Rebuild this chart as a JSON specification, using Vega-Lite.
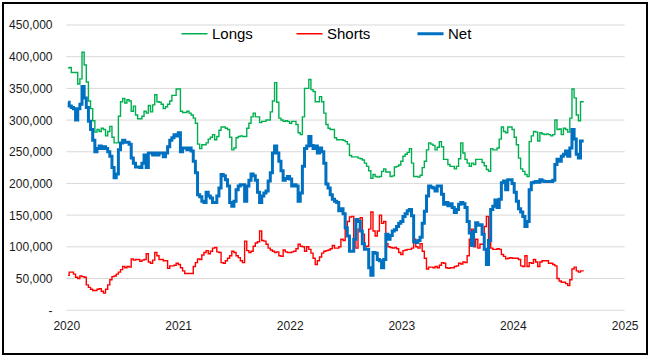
{
"$schema": "https://vega.github.io/schema/vega-lite/v6.json",
"width": 644, "height": 351,
"autosize": {"type": "none"},
"padding": {"left": 3, "top": 3, "right": 3, "bottom": 7},
"background": "white",
"config": {"view": {"stroke": "#000000", "strokeWidth": 2}, "font": "Liberation Sans"},
"datasets": {
"grid": [
{"d":"2020-01-01","d2":"2025-01-01","value":0},{"d":"2020-01-01","d2":"2025-01-01","value":50000},{"d":"2020-01-01","d2":"2025-01-01","value":100000},{"d":"2020-01-01","d2":"2025-01-01","value":150000},{"d":"2020-01-01","d2":"2025-01-01","value":200000},{"d":"2020-01-01","d2":"2025-01-01","value":250000},{"d":"2020-01-01","d2":"2025-01-01","value":300000},{"d":"2020-01-01","d2":"2025-01-01","value":350000},{"d":"2020-01-01","d2":"2025-01-01","value":400000},{"d":"2020-01-01","d2":"2025-01-01","value":450000}
],
"main": [
{"d":"2020-01-07","Longs":382000,"Shorts":55000,"Net":328000},
{"d":"2020-01-14","Longs":383000,"Shorts":60000,"Net":322000},
{"d":"2020-01-21","Longs":375000,"Shorts":60000,"Net":320000},
{"d":"2020-01-28","Longs":375000,"Shorts":57000,"Net":318000},
{"d":"2020-02-04","Longs":375000,"Shorts":52000,"Net":300000},
{"d":"2020-02-11","Longs":357000,"Shorts":50000,"Net":318000},
{"d":"2020-02-18","Longs":365000,"Shorts":54000,"Net":325000},
{"d":"2020-02-25","Longs":407000,"Shorts":53000,"Net":353000},
{"d":"2020-03-03","Longs":387000,"Shorts":52000,"Net":335000},
{"d":"2020-03-10","Longs":360000,"Shorts":40000,"Net":320000},
{"d":"2020-03-17","Longs":330000,"Shorts":36000,"Net":298000},
{"d":"2020-03-24","Longs":318000,"Shorts":33000,"Net":285000},
{"d":"2020-03-31","Longs":299000,"Shorts":31000,"Net":268000},
{"d":"2020-04-07","Longs":281000,"Shorts":31000,"Net":250000},
{"d":"2020-04-14","Longs":285000,"Shorts":33000,"Net":255000},
{"d":"2020-04-21","Longs":282000,"Shorts":34000,"Net":259000},
{"d":"2020-04-28","Longs":287000,"Shorts":30000,"Net":255000},
{"d":"2020-05-05","Longs":285000,"Shorts":27000,"Net":258000},
{"d":"2020-05-12","Longs":275000,"Shorts":33000,"Net":255000},
{"d":"2020-05-19","Longs":282000,"Shorts":40000,"Net":250000},
{"d":"2020-05-26","Longs":290000,"Shorts":48000,"Net":243000},
{"d":"2020-06-02","Longs":273000,"Shorts":53000,"Net":225000},
{"d":"2020-06-09","Longs":264000,"Shorts":54000,"Net":209000},
{"d":"2020-06-16","Longs":264000,"Shorts":57000,"Net":215000},
{"d":"2020-06-23","Longs":306000,"Shorts":60000,"Net":253000},
{"d":"2020-06-30","Longs":329000,"Shorts":64000,"Net":264000},
{"d":"2020-07-07","Longs":334000,"Shorts":69000,"Net":268000},
{"d":"2020-07-14","Longs":327000,"Shorts":67000,"Net":265000},
{"d":"2020-07-21","Longs":332000,"Shorts":69000,"Net":265000},
{"d":"2020-07-28","Longs":330000,"Shorts":68000,"Net":262000},
{"d":"2020-08-04","Longs":314000,"Shorts":81000,"Net":240000},
{"d":"2020-08-11","Longs":322000,"Shorts":79000,"Net":232000},
{"d":"2020-08-18","Longs":308000,"Shorts":80000,"Net":226000},
{"d":"2020-08-25","Longs":302000,"Shorts":80000,"Net":226000},
{"d":"2020-09-01","Longs":302000,"Shorts":77000,"Net":225000},
{"d":"2020-09-08","Longs":306000,"Shorts":79000,"Net":232000},
{"d":"2020-09-15","Longs":314000,"Shorts":80000,"Net":245000},
{"d":"2020-09-22","Longs":311000,"Shorts":89000,"Net":225000},
{"d":"2020-09-29","Longs":323000,"Shorts":76000,"Net":248000},
{"d":"2020-10-06","Longs":313000,"Shorts":74000,"Net":248000},
{"d":"2020-10-13","Longs":324000,"Shorts":79000,"Net":245000},
{"d":"2020-10-20","Longs":340000,"Shorts":91000,"Net":248000},
{"d":"2020-10-27","Longs":329000,"Shorts":86000,"Net":245000},
{"d":"2020-11-03","Longs":328000,"Shorts":80000,"Net":248000},
{"d":"2020-11-10","Longs":325000,"Shorts":80000,"Net":248000},
{"d":"2020-11-17","Longs":318000,"Shorts":78000,"Net":242000},
{"d":"2020-11-24","Longs":321000,"Shorts":78000,"Net":248000},
{"d":"2020-12-01","Longs":325000,"Shorts":66000,"Net":258000},
{"d":"2020-12-08","Longs":330000,"Shorts":70000,"Net":268000},
{"d":"2020-12-15","Longs":339000,"Shorts":70000,"Net":272000},
{"d":"2020-12-22","Longs":339000,"Shorts":71000,"Net":277000},
{"d":"2020-12-29","Longs":349000,"Shorts":74000,"Net":275000},
{"d":"2021-01-05","Longs":349000,"Shorts":72000,"Net":280000},
{"d":"2021-01-12","Longs":314000,"Shorts":67000,"Net":250000},
{"d":"2021-01-19","Longs":312000,"Shorts":62000,"Net":256000},
{"d":"2021-01-26","Longs":312000,"Shorts":58000,"Net":256000},
{"d":"2021-02-02","Longs":314000,"Shorts":58000,"Net":253000},
{"d":"2021-02-09","Longs":311000,"Shorts":58000,"Net":256000},
{"d":"2021-02-16","Longs":308000,"Shorts":58000,"Net":251000},
{"d":"2021-02-23","Longs":303000,"Shorts":69000,"Net":235000},
{"d":"2021-03-02","Longs":295000,"Shorts":75000,"Net":217000},
{"d":"2021-03-09","Longs":262000,"Shorts":81000,"Net":182000},
{"d":"2021-03-16","Longs":255000,"Shorts":80000,"Net":179000},
{"d":"2021-03-23","Longs":261000,"Shorts":87000,"Net":172000},
{"d":"2021-03-30","Longs":261000,"Shorts":91000,"Net":170000},
{"d":"2021-04-06","Longs":264000,"Shorts":94000,"Net":186000},
{"d":"2021-04-13","Longs":270000,"Shorts":89000,"Net":180000},
{"d":"2021-04-20","Longs":273000,"Shorts":93000,"Net":177000},
{"d":"2021-04-27","Longs":277000,"Shorts":98000,"Net":170000},
{"d":"2021-05-04","Longs":269000,"Shorts":99000,"Net":170000},
{"d":"2021-05-11","Longs":274000,"Shorts":92000,"Net":180000},
{"d":"2021-05-18","Longs":284000,"Shorts":91000,"Net":193000},
{"d":"2021-05-25","Longs":289000,"Shorts":75000,"Net":214000},
{"d":"2021-06-01","Longs":289000,"Shorts":74000,"Net":212000},
{"d":"2021-06-08","Longs":287000,"Shorts":78000,"Net":206000},
{"d":"2021-06-15","Longs":285000,"Shorts":82000,"Net":196000},
{"d":"2021-06-22","Longs":273000,"Shorts":86000,"Net":170000},
{"d":"2021-06-29","Longs":253000,"Shorts":93000,"Net":164000},
{"d":"2021-07-06","Longs":256000,"Shorts":91000,"Net":172000},
{"d":"2021-07-13","Longs":272000,"Shorts":86000,"Net":190000},
{"d":"2021-07-20","Longs":274000,"Shorts":83000,"Net":196000},
{"d":"2021-07-27","Longs":275000,"Shorts":78000,"Net":198000},
{"d":"2021-08-03","Longs":274000,"Shorts":75000,"Net":198000},
{"d":"2021-08-10","Longs":274000,"Shorts":109000,"Net":172000},
{"d":"2021-08-17","Longs":287000,"Shorts":94000,"Net":196000},
{"d":"2021-08-24","Longs":295000,"Shorts":91000,"Net":205000},
{"d":"2021-08-31","Longs":305000,"Shorts":93000,"Net":215000},
{"d":"2021-09-07","Longs":311000,"Shorts":101000,"Net":212000},
{"d":"2021-09-14","Longs":305000,"Shorts":106000,"Net":205000},
{"d":"2021-09-21","Longs":305000,"Shorts":108000,"Net":186000},
{"d":"2021-09-28","Longs":296000,"Shorts":125000,"Net":170000},
{"d":"2021-10-05","Longs":298000,"Shorts":110000,"Net":180000},
{"d":"2021-10-12","Longs":298000,"Shorts":109000,"Net":185000},
{"d":"2021-10-19","Longs":300000,"Shorts":104000,"Net":188000},
{"d":"2021-10-26","Longs":300000,"Shorts":98000,"Net":204000},
{"d":"2021-11-02","Longs":313000,"Shorts":95000,"Net":217000},
{"d":"2021-11-09","Longs":330000,"Shorts":93000,"Net":248000},
{"d":"2021-11-16","Longs":359000,"Shorts":91000,"Net":259000},
{"d":"2021-11-23","Longs":328000,"Shorts":92000,"Net":248000},
{"d":"2021-11-30","Longs":303000,"Shorts":86000,"Net":235000},
{"d":"2021-12-07","Longs":300000,"Shorts":85000,"Net":220000},
{"d":"2021-12-14","Longs":298000,"Shorts":95000,"Net":205000},
{"d":"2021-12-21","Longs":299000,"Shorts":92000,"Net":208000},
{"d":"2021-12-28","Longs":298000,"Shorts":91000,"Net":211000},
{"d":"2022-01-04","Longs":295000,"Shorts":91000,"Net":207000},
{"d":"2022-01-11","Longs":298000,"Shorts":92000,"Net":196000},
{"d":"2022-01-18","Longs":298000,"Shorts":93000,"Net":198000},
{"d":"2022-01-25","Longs":293000,"Shorts":97000,"Net":196000},
{"d":"2022-02-01","Longs":280000,"Shorts":104000,"Net":172000},
{"d":"2022-02-08","Longs":277000,"Shorts":101000,"Net":185000},
{"d":"2022-02-15","Longs":305000,"Shorts":100000,"Net":227000},
{"d":"2022-02-22","Longs":350000,"Shorts":93000,"Net":255000},
{"d":"2022-03-01","Longs":350000,"Shorts":100000,"Net":259000},
{"d":"2022-03-08","Longs":364000,"Shorts":96000,"Net":274000},
{"d":"2022-03-15","Longs":348000,"Shorts":90000,"Net":260000},
{"d":"2022-03-22","Longs":345000,"Shorts":82000,"Net":255000},
{"d":"2022-03-29","Longs":329000,"Shorts":72000,"Net":259000},
{"d":"2022-04-05","Longs":329000,"Shorts":78000,"Net":248000},
{"d":"2022-04-12","Longs":337000,"Shorts":84000,"Net":256000},
{"d":"2022-04-19","Longs":329000,"Shorts":90000,"Net":250000},
{"d":"2022-04-26","Longs":311000,"Shorts":93000,"Net":232000},
{"d":"2022-05-03","Longs":293000,"Shorts":94000,"Net":199000},
{"d":"2022-05-10","Longs":287000,"Shorts":95000,"Net":193000},
{"d":"2022-05-17","Longs":285000,"Shorts":97000,"Net":182000},
{"d":"2022-05-24","Longs":285000,"Shorts":102000,"Net":175000},
{"d":"2022-05-31","Longs":272000,"Shorts":98000,"Net":172000},
{"d":"2022-06-07","Longs":269000,"Shorts":98000,"Net":170000},
{"d":"2022-06-14","Longs":269000,"Shorts":100000,"Net":157000},
{"d":"2022-06-21","Longs":269000,"Shorts":112000,"Net":160000},
{"d":"2022-06-28","Longs":268000,"Shorts":110000,"Net":152000},
{"d":"2022-07-05","Longs":266000,"Shorts":128000,"Net":130000},
{"d":"2022-07-12","Longs":262000,"Shorts":140000,"Net":117000},
{"d":"2022-07-19","Longs":244000,"Shorts":147000,"Net":93000},
{"d":"2022-07-26","Longs":242000,"Shorts":148000,"Net":93000},
{"d":"2022-08-02","Longs":242000,"Shorts":112000,"Net":112000},
{"d":"2022-08-09","Longs":242000,"Shorts":98000,"Net":143000},
{"d":"2022-08-16","Longs":240000,"Shorts":128000,"Net":140000},
{"d":"2022-08-23","Longs":239000,"Shorts":146000,"Net":125000},
{"d":"2022-08-30","Longs":237000,"Shorts":120000,"Net":105000},
{"d":"2022-09-06","Longs":232000,"Shorts":100000,"Net":96000},
{"d":"2022-09-13","Longs":227000,"Shorts":101000,"Net":96000},
{"d":"2022-09-20","Longs":220000,"Shorts":128000,"Net":67000},
{"d":"2022-09-27","Longs":208000,"Shorts":155000,"Net":55000},
{"d":"2022-10-04","Longs":214000,"Shorts":125000,"Net":91000},
{"d":"2022-10-11","Longs":211000,"Shorts":117000,"Net":90000},
{"d":"2022-10-18","Longs":210000,"Shorts":125000,"Net":80000},
{"d":"2022-10-25","Longs":211000,"Shorts":150000,"Net":78000},
{"d":"2022-11-01","Longs":219000,"Shorts":137000,"Net":67000},
{"d":"2022-11-08","Longs":223000,"Shorts":140000,"Net":80000},
{"d":"2022-11-15","Longs":218000,"Shorts":105000,"Net":120000},
{"d":"2022-11-22","Longs":218000,"Shorts":100000,"Net":112000},
{"d":"2022-11-29","Longs":211000,"Shorts":99000,"Net":118000},
{"d":"2022-12-06","Longs":212000,"Shorts":98000,"Net":125000},
{"d":"2022-12-13","Longs":226000,"Shorts":99000,"Net":127000},
{"d":"2022-12-20","Longs":227000,"Shorts":97000,"Net":132000},
{"d":"2022-12-27","Longs":229000,"Shorts":91000,"Net":137000},
{"d":"2023-01-03","Longs":235000,"Shorts":88000,"Net":140000},
{"d":"2023-01-10","Longs":243000,"Shorts":94000,"Net":148000},
{"d":"2023-01-17","Longs":246000,"Shorts":95000,"Net":152000},
{"d":"2023-01-24","Longs":249000,"Shorts":96000,"Net":157000},
{"d":"2023-01-31","Longs":255000,"Shorts":96000,"Net":159000},
{"d":"2023-02-07","Longs":232000,"Shorts":98000,"Net":149000},
{"d":"2023-02-14","Longs":211000,"Shorts":112000,"Net":108000},
{"d":"2023-02-21","Longs":211000,"Shorts":100000,"Net":107000},
{"d":"2023-02-28","Longs":210000,"Shorts":98000,"Net":110000},
{"d":"2023-03-07","Longs":213000,"Shorts":105000,"Net":115000},
{"d":"2023-03-14","Longs":225000,"Shorts":93000,"Net":137000},
{"d":"2023-03-21","Longs":235000,"Shorts":82000,"Net":156000},
{"d":"2023-03-28","Longs":253000,"Shorts":65000,"Net":180000},
{"d":"2023-04-04","Longs":264000,"Shorts":68000,"Net":196000},
{"d":"2023-04-11","Longs":262000,"Shorts":68000,"Net":194000},
{"d":"2023-04-18","Longs":260000,"Shorts":67000,"Net":193000},
{"d":"2023-04-25","Longs":253000,"Shorts":69000,"Net":188000},
{"d":"2023-05-02","Longs":257000,"Shorts":67000,"Net":196000},
{"d":"2023-05-09","Longs":266000,"Shorts":71000,"Net":196000},
{"d":"2023-05-16","Longs":258000,"Shorts":75000,"Net":183000},
{"d":"2023-05-23","Longs":238000,"Shorts":74000,"Net":167000},
{"d":"2023-05-30","Longs":238000,"Shorts":67000,"Net":170000},
{"d":"2023-06-06","Longs":230000,"Shorts":66000,"Net":165000},
{"d":"2023-06-13","Longs":227000,"Shorts":67000,"Net":168000},
{"d":"2023-06-20","Longs":227000,"Shorts":67000,"Net":162000},
{"d":"2023-06-27","Longs":223000,"Shorts":69000,"Net":154000},
{"d":"2023-07-04","Longs":227000,"Shorts":70000,"Net":159000},
{"d":"2023-07-11","Longs":239000,"Shorts":74000,"Net":167000},
{"d":"2023-07-18","Longs":264000,"Shorts":73000,"Net":170000},
{"d":"2023-07-25","Longs":248000,"Shorts":76000,"Net":168000},
{"d":"2023-08-01","Longs":238000,"Shorts":75000,"Net":162000},
{"d":"2023-08-08","Longs":232000,"Shorts":86000,"Net":140000},
{"d":"2023-08-15","Longs":227000,"Shorts":112000,"Net":122000},
{"d":"2023-08-22","Longs":232000,"Shorts":128000,"Net":102000},
{"d":"2023-08-29","Longs":230000,"Shorts":100000,"Net":124000},
{"d":"2023-09-05","Longs":238000,"Shorts":112000,"Net":138000},
{"d":"2023-09-12","Longs":238000,"Shorts":98000,"Net":134000},
{"d":"2023-09-19","Longs":238000,"Shorts":104000,"Net":135000},
{"d":"2023-09-26","Longs":233000,"Shorts":104000,"Net":120000},
{"d":"2023-10-03","Longs":228000,"Shorts":132000,"Net":96000},
{"d":"2023-10-10","Longs":222000,"Shorts":148000,"Net":72000},
{"d":"2023-10-17","Longs":219000,"Shorts":112000,"Net":110000},
{"d":"2023-10-24","Longs":255000,"Shorts":98000,"Net":159000},
{"d":"2023-10-31","Longs":253000,"Shorts":96000,"Net":164000},
{"d":"2023-11-07","Longs":253000,"Shorts":96000,"Net":174000},
{"d":"2023-11-14","Longs":256000,"Shorts":97000,"Net":162000},
{"d":"2023-11-21","Longs":270000,"Shorts":96000,"Net":175000},
{"d":"2023-11-28","Longs":289000,"Shorts":88000,"Net":201000},
{"d":"2023-12-05","Longs":282000,"Shorts":85000,"Net":204000},
{"d":"2023-12-12","Longs":280000,"Shorts":81000,"Net":190000},
{"d":"2023-12-19","Longs":289000,"Shorts":82000,"Net":206000},
{"d":"2023-12-26","Longs":289000,"Shorts":83000,"Net":206000},
{"d":"2024-01-02","Longs":285000,"Shorts":82000,"Net":200000},
{"d":"2024-01-09","Longs":273000,"Shorts":82000,"Net":186000},
{"d":"2024-01-16","Longs":261000,"Shorts":82000,"Net":172000},
{"d":"2024-01-23","Longs":240000,"Shorts":80000,"Net":160000},
{"d":"2024-01-30","Longs":223000,"Shorts":70000,"Net":155000},
{"d":"2024-02-06","Longs":219000,"Shorts":69000,"Net":148000},
{"d":"2024-02-13","Longs":214000,"Shorts":86000,"Net":132000},
{"d":"2024-02-20","Longs":211000,"Shorts":69000,"Net":140000},
{"d":"2024-02-27","Longs":266000,"Shorts":75000,"Net":190000},
{"d":"2024-03-05","Longs":275000,"Shorts":74000,"Net":201000},
{"d":"2024-03-12","Longs":282000,"Shorts":80000,"Net":202000},
{"d":"2024-03-19","Longs":281000,"Shorts":76000,"Net":203000},
{"d":"2024-03-26","Longs":267000,"Shorts":69000,"Net":202000},
{"d":"2024-04-02","Longs":280000,"Shorts":76000,"Net":206000},
{"d":"2024-04-09","Longs":278000,"Shorts":78000,"Net":204000},
{"d":"2024-04-16","Longs":277000,"Shorts":78000,"Net":203000},
{"d":"2024-04-23","Longs":278000,"Shorts":78000,"Net":203000},
{"d":"2024-04-30","Longs":277000,"Shorts":74000,"Net":203000},
{"d":"2024-05-07","Longs":275000,"Shorts":74000,"Net":203000},
{"d":"2024-05-14","Longs":277000,"Shorts":72000,"Net":205000},
{"d":"2024-05-21","Longs":300000,"Shorts":70000,"Net":230000},
{"d":"2024-05-28","Longs":285000,"Shorts":50000,"Net":238000},
{"d":"2024-06-04","Longs":286000,"Shorts":46000,"Net":235000},
{"d":"2024-06-11","Longs":277000,"Shorts":44000,"Net":243000},
{"d":"2024-06-18","Longs":287000,"Shorts":44000,"Net":246000},
{"d":"2024-06-25","Longs":285000,"Shorts":42000,"Net":251000},
{"d":"2024-07-02","Longs":281000,"Shorts":39000,"Net":243000},
{"d":"2024-07-09","Longs":303000,"Shorts":48000,"Net":256000},
{"d":"2024-07-16","Longs":349000,"Shorts":65000,"Net":285000},
{"d":"2024-07-23","Longs":335000,"Shorts":68000,"Net":270000},
{"d":"2024-07-30","Longs":308000,"Shorts":62000,"Net":246000},
{"d":"2024-08-06","Longs":299000,"Shorts":60000,"Net":240000},
{"d":"2024-08-13","Longs":329000,"Shorts":62000,"Net":267000},
{"d":"2024-08-20","Longs":329000,"Shorts":62000,"Net":267000}
]
},
"encoding": {
"x": {"field": "d", "type": "temporal",
 "scale": {"type": "utc", "domain": [{"year": 2019, "month": 6, "date": 8, "utc": true}, {"year": 2025, "month": 3, "date": 15, "utc": true}]},
 "axis": {"title": null, "format": "%Y", "labelFontSize": 12, "labelColor": "#1a1a1a", "domain": false, "ticks": false, "tickSize": 0, "labelPadding": 0, "offset": -34, "grid": false, "labelFlush": false, "labelOverlap": false,
  "values": [{"year": 2020, "month": 1, "date": 1, "utc": true}, {"year": 2021, "month": 1, "date": 1, "utc": true}, {"year": 2022, "month": 1, "date": 1, "utc": true}, {"year": 2023, "month": 1, "date": 1, "utc": true}, {"year": 2024, "month": 1, "date": 1, "utc": true}, {"year": 2025, "month": 1, "date": 1, "utc": true}]}},
"y": {"field": "value", "type": "quantitative",
 "scale": {"domain": [-69108, 484712], "nice": false, "zero": false},
 "axis": {"title": null, "values": [0, 50000, 100000, 150000, 200000, 250000, 300000, 350000, 400000, 450000], "labelExpr": "datum.value == 0 ? '-' : format(datum.value, ',')", "labelFontSize": 12, "labelColor": "#1a1a1a", "domain": false, "ticks": false, "tickSize": 0, "labelPadding": 0, "offset": -49, "grid": false}}
},
"layer": [
{"data": {"name": "grid"}, "mark": {"type": "rule", "color": "#D9D9D9", "strokeWidth": 1}, "encoding": {"x2": {"field": "d2"}}},
{"data": {"name": "main"},
 "transform": [{"fold": ["Longs", "Shorts", "Net"], "as": ["series", "value"]}, {"filter": {"field": "series", "oneOf": ["Longs", "Shorts"]}}],
 "mark": {"type": "line", "interpolate": "step", "strokeWidth": 1.4},
 "encoding": {"color": {"field": "series", "type": "nominal",
  "scale": {"domain": ["Longs", "Shorts", "Net"], "range": ["#00B050", "#FF0000", "#0070C0"]},
  "legend": {"orient": "none", "legendX": 184, "legendY": 23, "direction": "horizontal", "columns": 3, "title": null, "symbolType": "stroke", "symbolSize": 680, "labelFontSize": 15, "labelColor": "#000000", "labelOffset": 10, "columnPadding": 40, "padding": 0,
   "encode": {"symbols": {"update": {"strokeWidth": {"signal": "datum.value === 'Net' ? 3 : 1.5"}}}}}}}},
{"data": {"name": "main"},
 "transform": [{"fold": ["Longs", "Shorts", "Net"], "as": ["series", "value"]}, {"filter": {"field": "series", "equal": "Net"}}],
 "mark": {"type": "line", "interpolate": "step", "strokeWidth": 3},
 "encoding": {"color": {"field": "series", "type": "nominal",
  "scale": {"domain": ["Longs", "Shorts", "Net"], "range": ["#00B050", "#FF0000", "#0070C0"]}}}}
]
}
